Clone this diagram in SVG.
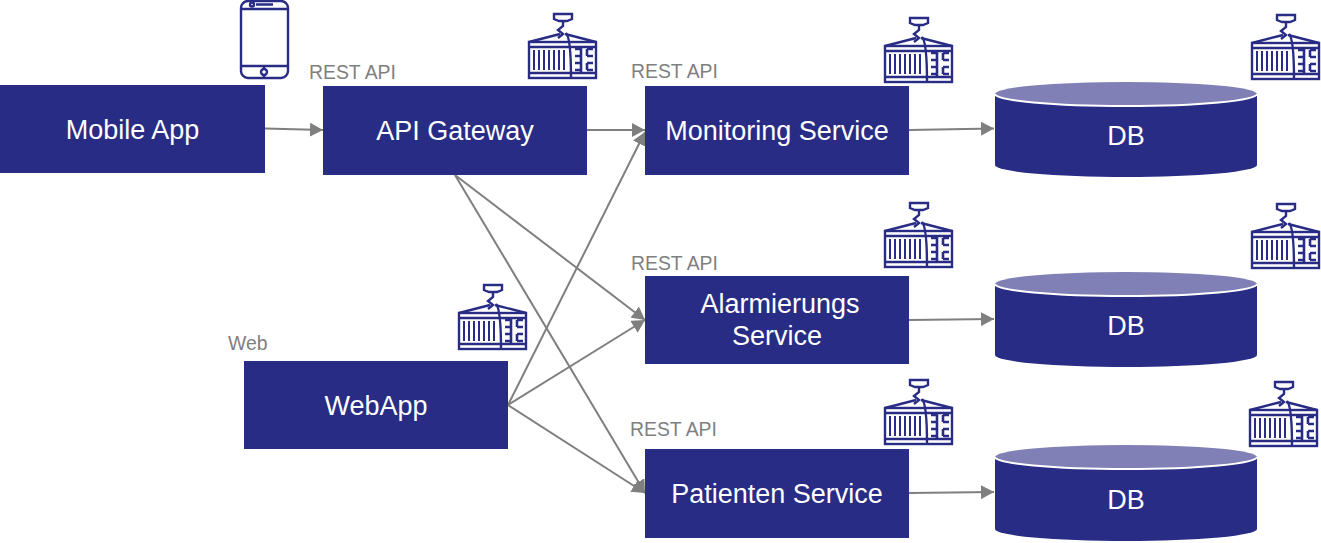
<svg xmlns="http://www.w3.org/2000/svg" width="1321" height="543" viewBox="0 0 1321 543">
<style>
.box{fill:#282c85}
.top{fill:#8080b6}
.rim{fill:none;stroke:#fff;stroke-width:2}
.t{font-family:"Liberation Sans",Arial,sans-serif;font-size:27px;fill:#fff;text-anchor:middle}
.l{font-family:"Liberation Sans",Arial,sans-serif;font-size:19.4px;fill:#7f7f7f}
.c{stroke:#7f7f7f;stroke-width:2;fill:none;marker-end:url(#a)}
.i{fill:none;stroke:#282c85;stroke-width:2.4}
</style>
<defs>
<marker id="a" markerUnits="userSpaceOnUse" markerWidth="14" markerHeight="14" refX="13" refY="7" orient="auto"><path d="M0 0L13 7L0 14Z" fill="#7f7f7f"/></marker>
<g id="ctr" class="i">
<path d="M25 2H43V7L38 9H30L25 7Z"/>
<path d="M34 9V14L29 18L34 22L29 26"/>
<path d="M31 22L0 30M36 22L67 30"/>
<path d="M37 21Q42 26 42 66"/>
<rect x="0" y="30" width="67" height="36"/>
<path d="M0 35H67M0 61H67"/>
<path d="M5 38V58M10 38V58M15 38V58M20 38V58M25 38V58M30 38V58M35 38V58" stroke-width="2"/>
<path d="M46 37H52M46 44H52M46 51H52M46 58H52M58 37H64M58 44H64M58 51H64M58 58H64M52 35V61M58 37V44M58 51V58" stroke-width="2.6"/>
</g>
</defs>
<g id="connectors">
<path class="c" d="M265 128.500L323 130"/>
<path class="c" d="M587 130H645"/>
<path class="c" d="M909 130L994 128.500"/>
<path class="c" d="M909 320L994 319"/>
<path class="c" d="M909 493L994 492"/>
<path class="c" d="M455 175L645 320"/>
<path class="c" d="M455 175L645 493"/>
<path class="c" d="M508 405L645 132"/>
<path class="c" d="M508 405L645 320"/>
<path class="c" d="M508 405L645 493"/>
</g>
<g id="mobile"><rect class="box" x="0" y="85" width="265" height="88"/><text class="t" x="132.500" y="139">Mobile App</text></g>
<g id="phone" class="i">
<rect x="241" y="1" width="47" height="77" rx="7"/>
<path d="M241 9H288M241 66H288M256 4.500H273M264 66V69M264 75V78"/>
<circle cx="252" cy="4.500" r="2"/><circle cx="264" cy="72" r="3"/>
</g>
<g id="gateway"><rect class="box" x="323" y="86" width="264" height="89"/><text class="t" x="455" y="140">API Gateway</text><use href="#ctr" x="529" y="12"/><text class="l" x="309" y="79">REST API</text></g>
<g id="monitoring"><rect class="box" x="645" y="86" width="264" height="89"/><text class="t" x="777" y="140">Monitoring Service</text><use href="#ctr" x="885" y="16"/><text class="l" x="631" y="78">REST API</text></g>
<g id="alarm"><rect class="box" x="645" y="276" width="264" height="88"/><text class="t" x="780" y="313">Alarmierungs</text><text class="t" x="777" y="345">Service</text><use href="#ctr" x="885" y="201"/><text class="l" x="631" y="270">REST API</text></g>
<g id="patient"><rect class="box" x="645" y="449" width="264" height="89"/><text class="t" x="777" y="503">Patienten Service</text><use href="#ctr" x="885" y="378"/><text class="l" x="630" y="436">REST API</text></g>
<g id="webapp"><rect class="box" x="244" y="361" width="264" height="88"/><text class="t" x="376" y="415">WebApp</text><use href="#ctr" x="459" y="283"/><text class="l" x="228" y="350">Web</text></g>
<g id="db1"><path class="box" d="M995 94V165A131 12 0 0 0 1257 165V94Z"/><ellipse class="top" cx="1126" cy="94" rx="131" ry="12"/><path class="rim" d="M995 94A131 12 0 0 0 1257 94"/><text class="t" x="1126" y="145">DB</text><use href="#ctr" x="1252" y="13"/></g>
<g id="db2"><path class="box" d="M995 284V355A131 12 0 0 0 1257 355V284Z"/><ellipse class="top" cx="1126" cy="284" rx="131" ry="12"/><path class="rim" d="M995 284A131 12 0 0 0 1257 284"/><text class="t" x="1126" y="335">DB</text><use href="#ctr" x="1252" y="202"/></g>
<g id="db3"><path class="box" d="M995 457V529A131 12 0 0 0 1257 529V457Z"/><ellipse class="top" cx="1126" cy="457" rx="131" ry="12"/><path class="rim" d="M995 457A131 12 0 0 0 1257 457"/><text class="t" x="1126" y="509">DB</text><use href="#ctr" x="1250" y="380"/></g>
</svg>
